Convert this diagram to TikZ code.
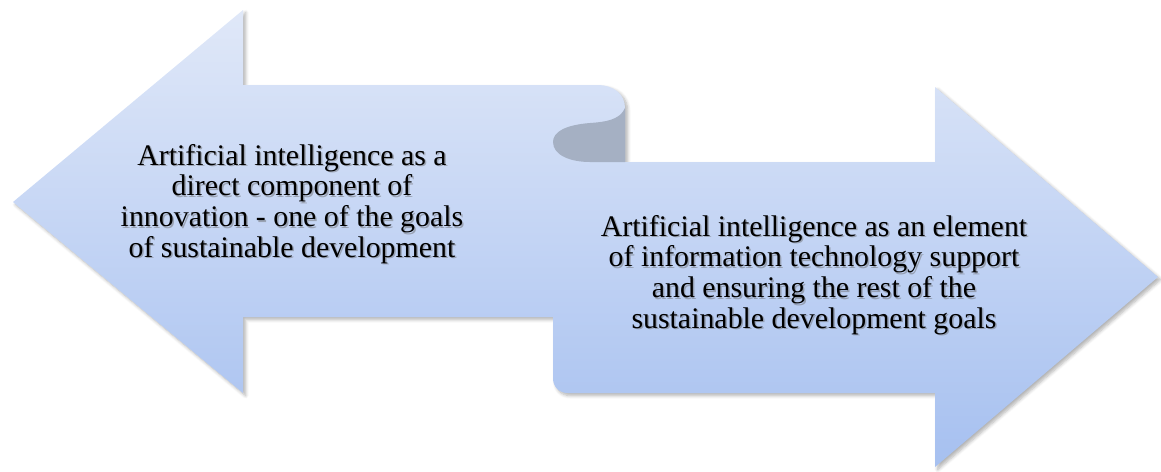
\documentclass[tikz,border=0pt]{standalone}
\usepackage{fontspec}
\setmainfont{Liberation Serif}
\usetikzlibrary{shadows.blur}

\definecolor{ribbonTop}{RGB}{224,232,248}
\definecolor{ribbonBottom}{RGB}{166,192,240}
\definecolor{curlGray}{RGB}{165,176,195}

\tikzset{
  goalText/.style={align=center, text=black, font=\fontsize{17}{17.5}\selectfont},
  goalShadow/.style={goalText, text=black!60, opacity=0.45}
}

\begin{document}
\begin{tikzpicture}[x=0.02cm, y=-0.02cm]
            \useasboundingbox (0,0) rectangle (1161,471);

            % both arrows as one ribbon
            \path[top color=ribbonTop, bottom color=ribbonBottom,
              blur shadow={shadow xshift=1.5pt, shadow yshift=-1.5pt, shadow blur steps=6, shadow opacity=30}]
              (13,202) -- (243,10) -- (243,85) -- (597,85)
              .. controls (615,85) and (625,95) .. (625,108) -- (625,162)
              -- (935,162) -- (935,87) -- (1158,277) -- (935,467) -- (935,393)
              -- (568,393) .. controls (559,393) and (553,387) .. (553,378)
              -- (553,317) -- (243,317) -- (243,393) -- cycle;

            % the fold
            \fill[curlGray] (625,108) .. controls (620,120) and (605,122) .. (590,123)
              .. controls (565,125) and (553,132) .. (553,142)
              .. controls (553,155) and (570,162) .. (590,162) -- (625,162) -- cycle;

            \node[goalShadow] (leftShadow) at (293.5,205.5) {Artificial intelligence as a\\direct component of\\innovation - one of the goals\\of sustainable development};
            \node[goalText] (leftText) at (292,204) {Artificial intelligence as a\\direct component of\\innovation - one of the goals\\of sustainable development};

            \node[goalShadow] (rightShadow) at (815.5,276.5) {Artificial intelligence as an element\\of information technology support\\and ensuring the rest of the\\sustainable development goals};
            \node[goalText] (rightText) at (814,275) {Artificial intelligence as an element\\of information technology support\\and ensuring the rest of the\\sustainable development goals};
        \end{tikzpicture}
\end{document}
